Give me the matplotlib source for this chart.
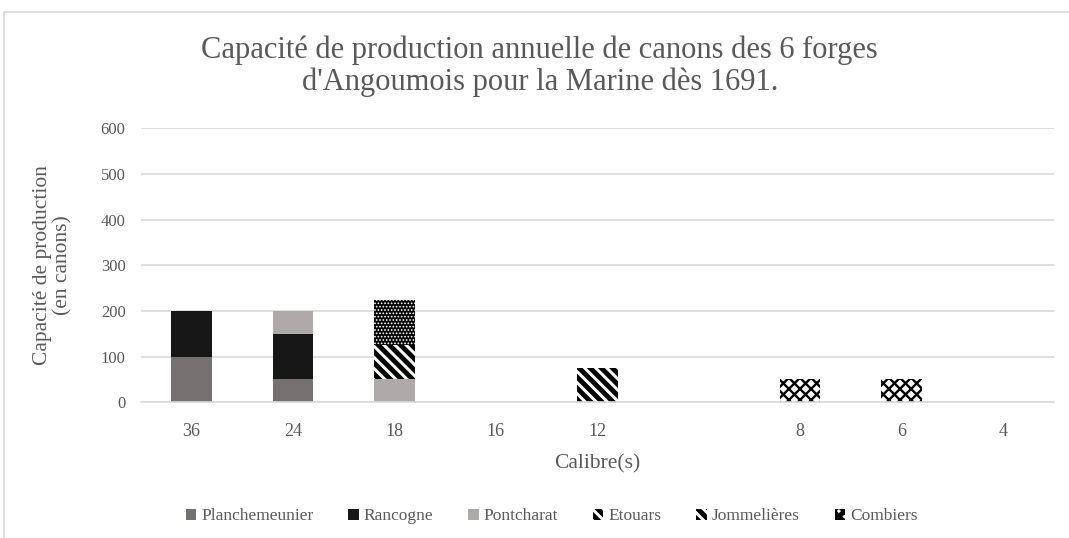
import numpy as np
import matplotlib.pyplot as plt
from matplotlib.patches import Rectangle

# production capacity of cannons per forge, by calibre
calibres = ['36', '24', '18', '16', '12', '', '8', '6', '4']
planchemeunier = [100, 50, 0, 0, 0, 0, 0, 0, 0]
rancogne = [100, 100, 0, 0, 0, 0, 0, 0, 0]
pontcharat = [0, 50, 50, 0, 0, 0, 0, 0, 0]
etouars = [0, 0, 75, 0, 0, 0, 0, 0, 0]
jommelieres = [0, 0, 0, 0, 75, 0, 0, 0, 0]
combiers = [0, 0, 100, 0, 0, 0, 50, 50, 0]

grey = '#595959'
plt.rcParams['font.family'] = 'Liberation Serif'
plt.rcParams['hatch.linewidth'] = 3.5

fig = plt.figure(figsize=(10.69, 5.38), dpi=100)
# chart frame
fig.patches.append(Rectangle((4/1069, -0.1), 1.2, 1 - 12/538 + 0.1, transform=fig.transFigure,
                             fill=False, edgecolor='#D9D9D9', linewidth=1.2))
ax = fig.add_axes([0.1317, 0.2522, 0.854, 0.5093])

x = np.arange(len(calibres))
w = 0.4
bottom = np.zeros(len(calibres))

def stack(vals, label, **kw):
    global bottom
    bars = ax.bar(x, vals, w, bottom=bottom, label=label, linewidth=0, zorder=2, **kw)
    bottom = bottom + np.array(vals)
    return bars

stack(planchemeunier, 'Planchemeunier', color='#767171')
stack(rancogne, 'Rancogne', color='#171717')
stack(pontcharat, 'Pontcharat', color='#AEAAAA')
stack(etouars, 'Etouars', facecolor='white', edgecolor='black', hatch='\\\\\\')
stack(jommelieres, 'Jommelières', facecolor='white', edgecolor='black', hatch='\\\\\\')
comb = stack(combiers, 'Combiers', facecolor='white', edgecolor='black', hatch='xxx')
for p in comb.patches:
    if hasattr(p, 'set_hatch_linewidth'):
        p.set_hatch_linewidth(1.7)
# the 18 block comes out as a dotted fill
p18 = comb.patches[2]
p18.set_facecolor('black')
p18.set_edgecolor('white')
p18.set_hatch('.....')
if hasattr(p18, 'set_hatch_linewidth'):
    p18.set_hatch_linewidth(0.8)

ax.set_xlim(-0.5, len(calibres) - 0.5)
ax.set_ylim(0, 600)
ax.set_yticks(np.arange(0, 601, 100))
ax.set_xticks(x)
ax.set_xticklabels(calibres)
ax.yaxis.grid(True, color='#D9D9D9', linewidth=1.2, zorder=0)
ax.set_axisbelow(True)
for s in ['top', 'right', 'left']:
    ax.spines[s].set_visible(False)
ax.spines['bottom'].set_color('#D9D9D9')
ax.spines['bottom'].set_linewidth(1.2)
ax.tick_params(axis='both', length=0, labelcolor=grey)
ax.tick_params(axis='y', pad=11, labelsize=12)
ax.tick_params(axis='x', pad=15, labelsize=13)

ax.set_xlabel('Calibre(s)', fontsize=15.5, color=grey, labelpad=10)
ax.set_ylabel('Capacité de production\n(en canons)', fontsize=15.5, color=grey, labelpad=20,
              linespacing=1.1)

fig.text(0.505, 0.877, "Capacité de production annuelle de canons des 6 forges\nd'Angoumois pour la Marine dès 1691.",
         ha='center', va='center', fontsize=22, color=grey, linespacing=1.1)

leg = fig.legend(loc='center', bbox_to_anchor=(0.516, 0.04), ncol=6, frameon=False,
                 fontsize=12.5, handlelength=0.6, handleheight=0.6, handletextpad=0.3,
                 columnspacing=2.0)
for t in leg.get_texts():
    t.set_color(grey)

plt.savefig('out.png', dpi=100)
